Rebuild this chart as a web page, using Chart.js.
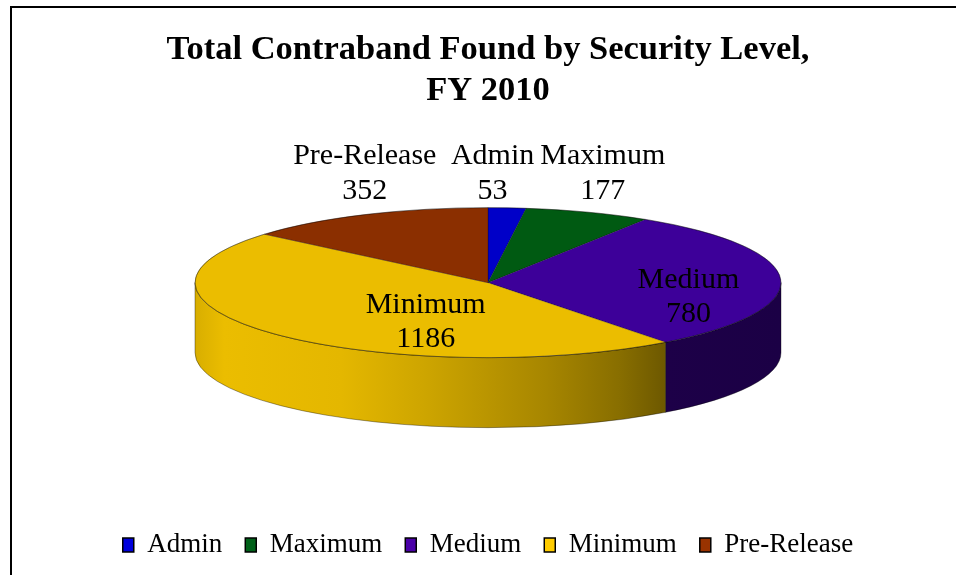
<!DOCTYPE html>
<html>
<head>
<meta charset="utf-8">
<script src="https://cdn.jsdelivr.net/npm/chart.js@4"></script>
<style>
  html, body { margin: 0; padding: 0; background: #fff; }
  #wrap { position: relative; width: 956px; height: 575px; overflow: hidden; }
  #frame { position: absolute; left: 10px; top: 6px; right: -10px; bottom: -10px;
           border-left: 2px solid #000; border-top: 2px solid #000; }
  canvas { position: absolute; left: 0; top: 0; }
</style>
</head>
<body>
<div id="wrap"><div id="frame"></div><canvas id="chart" width="956" height="575"></canvas></div>
<script>
const categories = ['Admin', 'Maximum', 'Medium', 'Minimum', 'Pre-Release'];
const contraband = [53, 177, 780, 1186, 352];
const titleLines = ['Total Contraband Found by Security Level,', 'FY 2010'];

const topColors = ['#0000c8', '#005a12', '#3d0099', '#ebbd00', '#8b2f00'];
const legendColors = ['#0000dc', '#006018', '#4a00a8', '#ffcc00', '#993300'];

const FONT = "'Liberation Serif', 'Times New Roman', serif";
const DEPTH = 70;          // slab thickness, px
const TILT = 75 / 293;     // vertical squash of the top face
// light across the side wall: [position, brightness]
const SIDE_LIGHT = [[0, 0.92], [0.05, 1], [0.25, 0.97], [0.4, 0.87], [0.6, 0.71], [0.725, 0.58], [0.8, 0.47], [1, 0.45]];

function shade(hex, f) {
  const n = parseInt(hex.slice(1), 16);
  const c = [n >> 16, (n >> 8) & 255, n & 255].map(v => Math.round(v * f));
  return 'rgb(' + c.join(',') + ')';
}

function geom(chart) {
  const arcs = chart.getDatasetMeta(0).data;
  const a = arcs[0];
  // the whole slab (top face + wall) is centred in the chart area
  return { arcs, cx: a.x, cy0: a.y, cy: a.y - DEPTH / 2, r: a.outerRadius, ry: a.outerRadius * TILT };
}

const pie3d = {
  id: 'pie3d',
  beforeDatasetsDraw(chart) {
    const ctx = chart.ctx, g = geom(chart);
    g.arcs.forEach((arc, i) => {
      const a0 = Math.max(arc.startAngle, 0), a1 = Math.min(arc.endAngle, Math.PI);
      if (a1 <= a0) return;
      const grad = ctx.createLinearGradient(g.cx - g.r, 0, g.cx + g.r, 0);
      SIDE_LIGHT.forEach(([t, f]) => grad.addColorStop(t, shade(topColors[i], f)));
      ctx.beginPath();
      ctx.ellipse(g.cx, g.cy, g.r, g.ry, 0, a0, a1);
      ctx.ellipse(g.cx, g.cy + DEPTH, g.r, g.ry, 0, a1, a0, true);
      ctx.closePath();
      ctx.fillStyle = grad;
      ctx.fill();
      ctx.strokeStyle = 'rgba(0,0,0,0.45)';
      ctx.lineWidth = 0.8;
      ctx.stroke();
    });
    // squash the library's arcs into the top face
    ctx.save();
    ctx.translate(g.cx, g.cy);
    ctx.scale(1, TILT);
    ctx.translate(-g.cx, -g.cy0);
  },
  afterDatasetsDraw(chart) {
    const ctx = chart.ctx, g = geom(chart);
    ctx.restore();
    ctx.save();
    ctx.beginPath();
    ctx.ellipse(g.cx, g.cy, g.r, g.ry, 0, 0, Math.PI * 2);
    ctx.strokeStyle = 'rgba(0,0,0,0.4)';
    ctx.lineWidth = 0.8;
    ctx.stroke();

    ctx.font = '30px ' + FONT;
    ctx.fillStyle = '#000';
    ctx.textAlign = 'center';
    ctx.textBaseline = 'middle';
    const total = contraband.reduce((s, v) => s + v, 0);
    const outside = [], inside = [];
    g.arcs.forEach((arc, i) => {
      const mid = (arc.startAngle + arc.endAngle) / 2;
      const lines = [categories[i], String(contraband[i])];
      const w = Math.max(...lines.map(t => ctx.measureText(t).width));
      if (contraband[i] / total < 0.15) {
        outside.push({ x: g.cx + g.r * Math.cos(mid), w, lines });
      } else {
        const half = (arc.endAngle - arc.startAngle) / 2;
        const d = 2 * g.r * Math.sin(half) / (3 * half); // sector centroid
        inside.push({ x: g.cx + d * Math.cos(mid) + 34, y: g.cy + d * TILT * Math.sin(mid) + 16, lines });
      }
    });
    // keep small-slice labels from overlapping
    outside.sort((a, b) => a.x - b.x);
    for (let k = 1; k < outside.length; k++) {
      const p = outside[k - 1], q = outside[k];
      const gap = (p.x + p.w / 2 + 6) - (q.x - q.w / 2);
      if (gap > 0) { p.x -= gap / 2; q.x += gap / 2; }
    }
    const yOut = g.cy - g.ry - 17;
    outside.forEach(l => {
      ctx.fillText(l.lines[0], l.x, yOut - 35);
      ctx.fillText(l.lines[1], l.x, yOut);
    });
    inside.forEach(l => {
      ctx.fillText(l.lines[0], l.x, l.y - 17);
      ctx.fillText(l.lines[1], l.x, l.y + 17);
    });
    ctx.restore();
  }
};

new Chart(document.getElementById('chart'), {
  type: 'pie',
  data: {
    labels: categories,
    datasets: [{
      data: contraband,
      backgroundColor: topColors,
      borderColor: 'rgba(0,0,0,0.4)',
      borderWidth: 1,
      radius: 293,
      clip: false
    }]
  },
  options: {
    responsive: false,
    animation: false,
    events: [],
    layout: { padding: { left: 20, right: 0, top: 0, bottom: 6.5 } },
    plugins: {
      title: {
        display: true,
        text: titleLines,
        color: '#000',
        font: { family: FONT, size: 34.5, weight: 'bold', lineHeight: 1.2 },
        padding: { top: 29, bottom: 15 }
      },
      legend: {
        position: 'bottom',
        labels: {
          color: '#000',
          font: { family: FONT, size: 27 },
          boxWidth: 11,
          boxHeight: 14,
          padding: 23,
          generateLabels: () => categories.map((c, i) => ({
            text: c, fillStyle: legendColors[i], strokeStyle: '#000', lineWidth: 1.5, hidden: false, index: i
          }))
        }
      },
      tooltip: { enabled: false }
    }
  },
  plugins: [pie3d]
});
</script>
</body>
</html>
